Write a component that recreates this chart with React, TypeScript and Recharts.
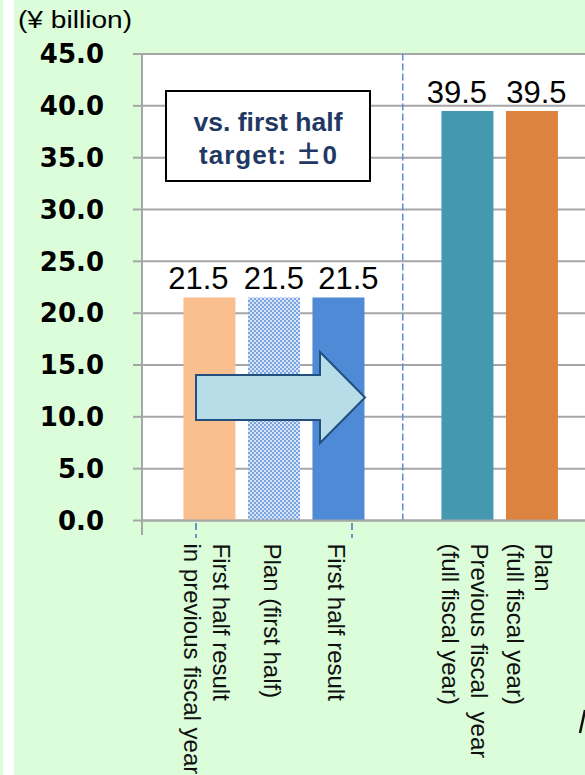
import React from 'react';
import { BarChart, Bar, XAxis, YAxis, CartesianGrid, Cell, LabelList, ReferenceLine } from 'recharts';

// categories (a blank slot separates the half-year group from the full-year group)
const categories = [
    'First half result\nin previous fiscal year',
    'Plan (first half)',
    'First half result',
    ' ',
    'Previous fiscal  year\n(full fiscal year)',
    'Plan\n(full fiscal year)',
];
const profit = [21.5, 21.5, 21.5, null, 39.5, 39.5];
const barFills = ['#F9BF8E', 'url(#planDots)', '#4F8AD6', 'none', '#4499B1', '#DC833F'];
const yTicks = [0, 5, 10, 15, 20, 25, 30, 35, 40, 45];

const GREEN = '#DBFDDA';
const GRID = '#A6A6A6';

// sideways nudge for each drawn value label so neighbouring numbers don't collide
// (LabelList skips the empty slot, so this runs over the five drawn bars)
const LABEL_NUDGE = [-11, 0, 10, -10.5, 4.5];

const data = categories.map((name, i) => ({ name, value: profit[i] }));

const CategoryTick = ({ x, y, payload }: any) => {
    const lines: string[] = String(payload.value).split('\n');
    if (!payload.value.trim()) return null;
    const offsets = lines.length === 1 ? [-10] : [3.5, -25];
    return (
        <g>
            {lines.map((line, i) => (
                <text
                    key={i}
                    transform={`translate(${x + offsets[i]},${y + 23}) rotate(90)`}
                    textAnchor="start"
                    fontFamily="Liberation Sans"
                    fontSize={24}
                    fill="#111"
                    style={{ whiteSpace: 'pre' }}
                >
                    {line}
                </text>
            ))}
        </g>
    );
};

const ValueLabel = ({ x, y, width, value, index }: any) => {
    if (value == null) return null;
    return (
        <text
            x={x + width / 2 + (LABEL_NUDGE[index] ?? 0)}
            y={y - 8.5}
            textAnchor="middle"
            fontFamily="Liberation Sans"
            fontSize={31}
            fill="#000"
        >
            {Number(value).toFixed(1)}
        </text>
    );
};

export default function App() {
    return (
        <div
            style={{
                position: 'absolute',
                left: 0,
                top: 0,
                width: 585,
                height: 775,
                overflow: 'hidden',
                background: `linear-gradient(to right, ${GREEN} 0 3px, #fff 3px 14px, ${GREEN} 14px)`,
            }}
        >
            <BarChart
                width={600}
                height={775}
                data={data}
                margin={{ top: 54, right: 0, left: 0, bottom: 0 }}
                barCategoryGap="10%"
            >
                <defs>
                    <pattern id="planDots" width="4" height="4" patternUnits="userSpaceOnUse">
                        <rect width="4" height="4" fill="#D8E5F7" />
                        <rect width="2" height="2" fill="#7CA4E1" />
                        <rect x="2" y="2" width="2" height="2" fill="#7CA4E1" />
                    </pattern>
                </defs>
                <CartesianGrid vertical={false} fill="#fff" stroke={GRID} strokeWidth={2} />
                <XAxis
                    dataKey="name"
                    type="category"
                    interval={0}
                    height={254.5}
                    padding={{ left: 35, right: 36 }}
                    tickLine={false}
                    tickSize={0}
                    tickMargin={0}
                    axisLine={{ stroke: GRID, strokeWidth: 2 }}
                    tick={<CategoryTick />}
                />
                <YAxis
                    width={142}
                    domain={[0, 45]}
                    ticks={yTicks}
                    tickFormatter={(v: number) => v.toFixed(1)}
                    tickSize={9}
                    tickMargin={29}
                    axisLine={{ stroke: GRID, strokeWidth: 2 }}
                    tickLine={{ stroke: GRID, strokeWidth: 2 }}
                    tick={{ fontFamily: 'DejaVu Sans', fontWeight: 'bold', fontSize: 26, fill: '#000' }}
                />
                <ReferenceLine x=" " stroke="#5B8FD0" strokeWidth={1.5} strokeDasharray="7 3" />
                <Bar dataKey="value" isAnimationActive={false}>
                    {data.map((d, i) => (
                        <Cell key={d.name} fill={barFills[i]} />
                    ))}
                    <LabelList dataKey="value" content={<ValueLabel />} />
                </Bar>
            </BarChart>

            <svg width={585} height={775} style={{ position: 'absolute', left: 0, top: 0, pointerEvents: 'none' }}>
                <text
                    x={18}
                    y={28}
                    fontFamily="Liberation Sans"
                    fontSize={23}
                    textLength={114}
                    lengthAdjust="spacingAndGlyphs"
                    fill="#000"
                >
                    (¥ billion)
                </text>

                {/* axis stub below the baseline and dashed connector stubs */}
                <line x1={142} y1={520} x2={142} y2={535} stroke={GRID} strokeWidth={2} />
                <line x1={196} y1={523} x2={196} y2={538} stroke="#4472C4" strokeWidth={1.5} strokeDasharray="7 4" />
                <line x1={352} y1={523} x2={352} y2={538} stroke="#4472C4" strokeWidth={1.5} strokeDasharray="7 4" />

                {/* callout box */}
                <rect x={166} y={91} width={204} height={90} fill="#fff" stroke="#000" strokeWidth={2} />
                <text
                    x={268}
                    y={130.5}
                    textAnchor="middle"
                    fontFamily="Liberation Sans"
                    fontWeight="bold"
                    fontSize={26}
                    textLength={149}
                    lengthAdjust="spacingAndGlyphs"
                    fill="#1F3864"
                >
                    vs. first half
                </text>
                <text
                    x={268}
                    y={163.5}
                    textAnchor="middle"
                    fontFamily="Liberation Sans"
                    fontWeight="bold"
                    fontSize={26}
                    textLength={138}
                    lengthAdjust="spacing"
                    fill="#1F3864"
                >
                    target: <tspan fontFamily="Noto Sans CJK JP">±</tspan>0
                </text>

                {/* progress arrow */}
                <polygon
                    points="196,375 320,375 320,352 365,397.5 320,443 320,420 196,420"
                    fill="#B7DEE8"
                    stroke="#234F7E"
                    strokeWidth={2}
                    strokeLinejoin="miter"
                />

                {/* edge stroke of the neighbouring panel's caption, cut by the right border */}
                <line x1={580} y1={733} x2={585} y2={710} stroke="#111" strokeWidth={2.5} />
            </svg>
        </div>
    );
}
